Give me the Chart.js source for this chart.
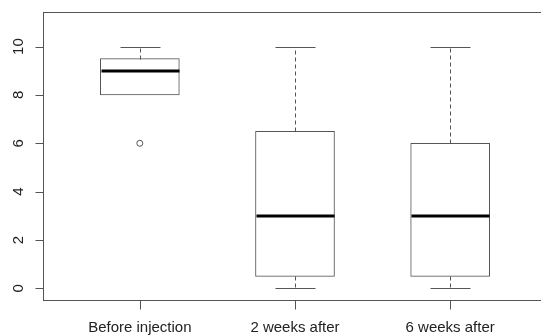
<!DOCTYPE html>
<html>
<head>
<meta charset="utf-8">
<script src="https://cdn.jsdelivr.net/npm/chart.js@4/dist/chart.umd.min.js"></script>
<style>
  html, body { margin: 0; padding: 0; background: #fff; overflow: hidden; }
  #wrap { width: 560px; height: 335px; }
</style>
</head>
<body>
<div id="wrap"><canvas id="boxChart" width="560" height="335"></canvas></div>
<script>
const groups = ['Before injection', '2 weeks after', '6 weeks after'];
const whiskerLow = [8, 0, 0];
const q1 = [8, 0.5, 0.5];
const medians = [9, 3, 3];
const q3 = [9.5, 6.5, 6];
const whiskerHigh = [10, 10, 10];
const outliers = [{ x: 1, y: 6 }];
const yTicks = [0, 2, 4, 6, 8, 10];

const lineColor = '#555';

// whiskers, caps, medians, frame, ticks and labels (R style)
const boxplotExtras = {
  id: 'boxplotExtras',
  afterDatasetsDraw(chart) {
    const { ctx, chartArea, scales } = chart;
    const xs = scales.x, ys = scales.y;
    const px = (v) => Math.round(xs.getPixelForValue(v)) + 0.5;
    const py = (v) => Math.round(ys.getPixelForValue(v)) + 0.5;
    const halfCap = 20, halfBox = 39;

    ctx.save();
    ctx.lineWidth = 1;
    ctx.strokeStyle = lineColor;
    groups.forEach((g, i) => {
      const x = px(i + 1);
      // dashed whiskers
      ctx.setLineDash([4, 3]);
      ctx.beginPath();
      if (whiskerHigh[i] > q3[i]) { ctx.moveTo(x, py(q3[i])); ctx.lineTo(x, py(whiskerHigh[i])); }
      if (whiskerLow[i] < q1[i]) { ctx.moveTo(x, py(q1[i])); ctx.lineTo(x, py(whiskerLow[i])); }
      ctx.stroke();
      ctx.setLineDash([]);
      // caps
      ctx.beginPath();
      ctx.moveTo(x - halfCap, py(whiskerHigh[i])); ctx.lineTo(x + halfCap, py(whiskerHigh[i]));
      if (whiskerLow[i] < q1[i]) {
        ctx.moveTo(x - halfCap, py(whiskerLow[i])); ctx.lineTo(x + halfCap, py(whiskerLow[i]));
      }
      ctx.stroke();
      // median
      ctx.save();
      ctx.lineWidth = 3;
      ctx.strokeStyle = '#000';
      ctx.beginPath();
      const ym = Math.round(ys.getPixelForValue(medians[i]));
      ctx.moveTo(x - halfBox, ym); ctx.lineTo(x + halfBox, ym);
      ctx.stroke();
      ctx.restore();
    });

    // frame (right side falls outside the window)
    const l = Math.round(chartArea.left) + 0.5, t = Math.round(chartArea.top) + 0.5;
    const r = Math.round(chartArea.right) + 0.5, b = Math.round(chartArea.bottom) + 0.5;
    ctx.strokeRect(l, t, r - l, b - t);

    // tick marks
    ctx.beginPath();
    yTicks.forEach((v) => { ctx.moveTo(l - 8, py(v)); ctx.lineTo(l, py(v)); });
    groups.forEach((g, i) => { ctx.moveTo(px(i + 1), b); ctx.lineTo(px(i + 1), b + 9); });
    ctx.stroke();

    // labels
    ctx.fillStyle = '#222';
    ctx.font = '15px "Liberation Sans", Arial, sans-serif';
    ctx.textAlign = 'center';
    ctx.textBaseline = 'alphabetic';
    groups.forEach((g, i) => ctx.fillText(g, xs.getPixelForValue(i + 1), 332));
    yTicks.forEach((v) => {
      ctx.save();
      ctx.translate(23, ys.getPixelForValue(v));
      ctx.rotate(-Math.PI / 2);
      ctx.fillText(String(v), 0, 0);
      ctx.restore();
    });
    ctx.restore();
  },
};

const ctx = document.getElementById('boxChart').getContext('2d');

new Chart(ctx, {
  data: {
    datasets: [
      {
        type: 'bar',
        data: groups.map((g, i) => ({ x: i + 1, y: [q1[i], q3[i]] })),
        backgroundColor: '#fff',
        borderColor: lineColor,
        borderWidth: 1,
        borderSkipped: false,
        barThickness: 79,
      },
      {
        type: 'scatter',
        data: outliers,
        pointStyle: 'circle',
        pointRadius: 3,
        pointBackgroundColor: '#fff',
        pointBorderColor: lineColor,
        pointBorderWidth: 1,
      },
    ],
  },
  options: {
    responsive: false,
    animation: false,
    layout: { padding: { left: 43, top: 12, right: 13, bottom: 35 } },
    plugins: { legend: { display: false }, tooltip: { enabled: false } },
    scales: {
      x: { type: 'linear', min: 0.376, max: 3.624, offset: false, display: false },
      y: { type: 'linear', min: -0.48, max: 11.43, display: false },
    },
  },
  plugins: [boxplotExtras],
});
</script>
</body>
</html>
